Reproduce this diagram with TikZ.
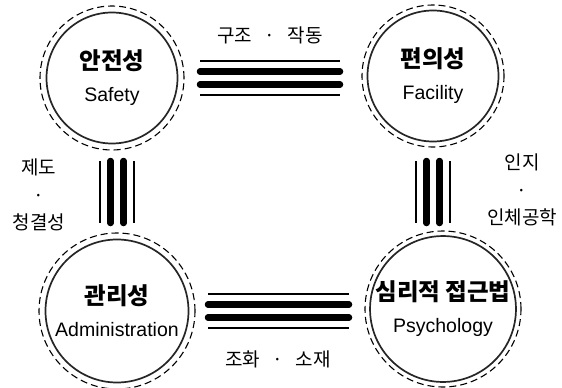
\documentclass[tikz,border=0pt]{standalone}
\usepackage{fontspec}
\setmainfont{Liberation Sans}
\newfontfamily\kr{Noto Sans CJK KR}
\usetikzlibrary{calc}
\tikzset{
  circ/.style = {circle, draw=black!85, line width=1.7pt, inner sep=0pt,
    align=center, font=\fontsize{19.5}{32}\selectfont},
  anel/.style = {draw=black, line width=1.1pt, dash pattern=on 7pt off 4pt},
  fino/.style = {draw=black, line width=1.5pt},
  grosso/.style = {draw=black, line width=6.5pt, line cap=round},
  rotk/.style = {font=\kr\fontsize{19}{27.5}\selectfont, align=center}
}
\newcommand{\tit}[1]{{\kr\bfseries\fontsize{23.5}{32}\selectfont #1}}
\newcommand{\ponto}{\makebox[36pt]{·}}

\begin{document}
\begin{tikzpicture}[x=1pt, y=-1pt]
  \useasboundingbox (0,0) rectangle (562,388);
  % circulos
  \node [circ, minimum size=131pt] (saf) at (112,78) {\tit{안전성}\\Safety};
  \node [circ, minimum size=131pt] (fac) at (433,76) {\tit{편의성}\\Facility};
  \node [circ, minimum size=143pt] (adm) at (117,311) {\tit{관리성}\\Administration};
  \node [circ, minimum size=143pt] (psy) at (443,309) {\tit{심리적~접근법}\\Psychology};
  \foreach \n/\r in {saf/72, fac/71, adm/78, psy/78}
    \draw [anel] (\n.center) circle [radius=\r pt];
  % feixes de linhas
  \foreach \o/\s in {-17/fino, -6.5/grosso, 6.5/grosso, 17/fino} {
    \draw [\s, transform canvas={yshift=\o pt}, shorten <=88pt, shorten >=93pt]
      (saf.center) -- (saf -| fac);
    \draw [\s, transform canvas={yshift=\o pt}, shorten <=91pt, shorten >=94pt]
      (adm.center) -- (adm -| psy);
    \draw [\s, transform canvas={xshift=\o pt}, shorten <=83pt, shorten >=88pt]
      (saf -| adm) -- (adm.center);
    \draw [\s, transform canvas={xshift=\o pt}, shorten <=85pt, shorten >=86pt]
      (fac.center) -- (fac |- psy);
  }
  % rotulos
  \node [rotk] (estr) at (270,35) {구조\ponto 작동};
  \node [rotk] (harm) at (278,359) {조화\ponto 소재};
  \node [rotk] (inst) at (39,195) {제도\\·\\청결성};
  \node [rotk] (cogn) at (522,190) {인지\\·\\인체공학};
\end{tikzpicture}
\end{document}
